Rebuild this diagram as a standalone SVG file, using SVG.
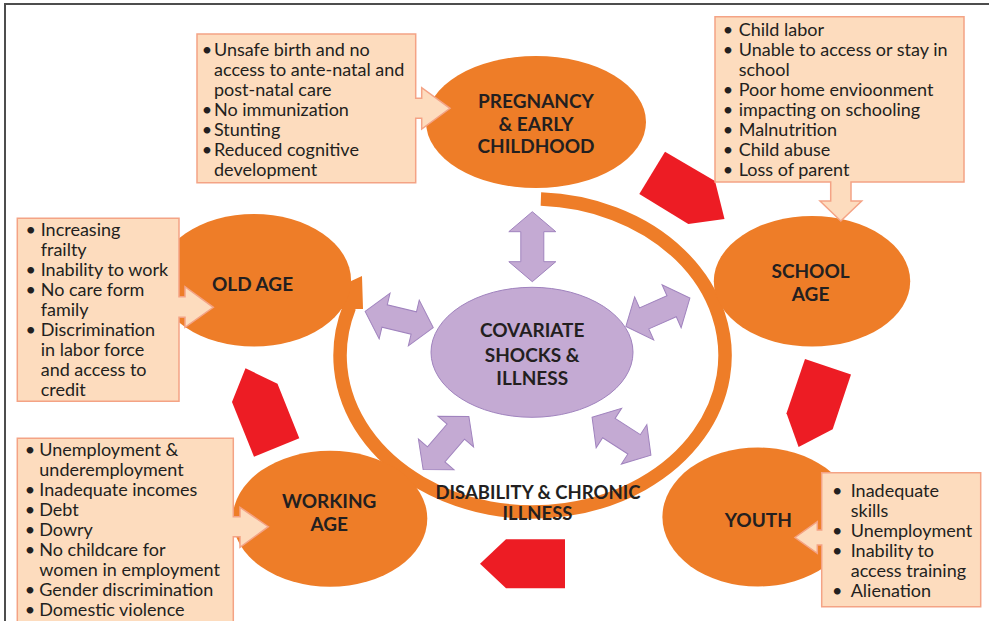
<svg xmlns="http://www.w3.org/2000/svg" width="989" height="621" viewBox="0 0 989 621">
<style>
.stage{fill:#EE7D28}
.lbl{font-family:Lato,"Liberation Sans",sans-serif;font-weight:bold;font-size:19px;fill:#231F20;text-anchor:middle}
.callout{fill:#FDDCBE;stroke:#F4A385;stroke-width:1.5}
.body{font-family:Lato,"Liberation Sans",sans-serif;font-size:18px;fill:#231F20}
.bul{font-family:Lato,"Liberation Sans",sans-serif;font-size:18px;fill:#231F20;text-anchor:middle}
.red{fill:#ED1C24}
.purple{fill:#C4AAD3;stroke:#A083BE;stroke-width:1}
.frame{stroke:#4D4D4D;stroke-width:2;fill:none}
</style>
<defs>
<path id="dbl" d="M-35 0 L-15 -23.5 L-15 -11.5 L15 -11.5 L15 -23.5 L35 0 L15 23.5 L15 11.5 L-15 11.5 L-15 23.5 Z"/>
</defs>
<rect x="0" y="0" width="989" height="621" fill="#FFFFFF"/>

<g id="connectors">
  <path d="M540.9 199.1 A192.5 156.5 0 1 1 349.5 307" fill="none" stroke="#EE7D28" stroke-width="13.5"/>
  <polygon class="stage" points="338,309 363,309 362,276 349,282"/>
  <polygon class="red" points="665,151.7 715,181 724.5,219 688.3,224 639.3,194"/>
  <polygon class="red" points="805,359 851,374.5 832.7,429.3 798.6,447 786.5,413.3"/>
  <polygon class="red" points="245.5,368.3 277.5,383.7 299.3,438.3 254,456.7 232,402"/>
  <polygon class="red" points="480,563.8 506,539.3 565,539.3 565,588.3 506,588.3"/>
  <use href="#dbl" class="purple" transform="translate(532.3 246.7) rotate(90)"/>
  <use href="#dbl" class="purple" transform="translate(399.2 319.5) rotate(13.4)"/>
  <use href="#dbl" class="purple" transform="translate(657.9 312.3) rotate(-23.9)"/>
  <use href="#dbl" class="purple" transform="translate(446 443) rotate(-49.2)"/>
  <use href="#dbl" class="purple" transform="translate(621.5 436.2) rotate(32.8)"/>
</g>

<g id="node-covariate">
  <ellipse cx="532" cy="352.3" rx="101" ry="65" fill="#C4AAD3" stroke="#A083BE" stroke-width="1"/>
  <text class="lbl"><tspan x="532.2" y="336.7">COVARIATE</tspan><tspan x="532.2" y="362.3">SHOCKS &amp;</tspan><tspan x="532.2" y="385">ILLNESS</tspan></text>
</g>

<g id="node-pregnancy">
  <ellipse class="stage" cx="536" cy="122" rx="110" ry="66"/>
  <text class="lbl"><tspan x="536" y="108.3">PREGNANCY</tspan><tspan x="536" y="131">&amp; EARLY</tspan><tspan x="536" y="153.3">CHILDHOOD</tspan></text>
</g>

<g id="node-school">
  <ellipse class="stage" cx="812" cy="281.3" rx="98.2" ry="65.3"/>
  <text class="lbl"><tspan x="810.6" y="278.3">SCHOOL</tspan><tspan x="810.6" y="301">AGE</tspan></text>
</g>

<g id="node-youth">
  <ellipse class="stage" cx="758" cy="517" rx="95.6" ry="69.5"/>
  <text class="lbl" x="758.3" y="526.7">YOUTH</text>
</g>

<g id="node-working">
  <ellipse class="stage" cx="330" cy="518.7" rx="97.3" ry="68"/>
  <text class="lbl"><tspan x="329.2" y="508.3">WORKING</tspan><tspan x="329.2" y="531">AGE</tspan></text>
</g>

<g id="node-oldage">
  <ellipse class="stage" cx="254" cy="280.3" rx="97" ry="66.3"/>
  <text class="lbl" x="252.5" y="291">OLD AGE</text>
</g>

<g id="node-disability">
  <text class="lbl" style="font-size:18.5px"><tspan x="538" y="499">DISABILITY &amp; CHRONIC</tspan><tspan x="537.5" y="520">ILLNESS</tspan></text>
</g>

<g id="callout-pregnancy">
  <path class="callout" d="M197 34 H415.7 V98.3 H421.7 V87.7 L450 108.3 L421.7 129 V118.3 H415.7 V182.7 H197 Z"/>
  <text class="bul"><tspan x="207" y="56">•</tspan><tspan x="207" y="116">•</tspan><tspan x="207" y="136">•</tspan><tspan x="207" y="156">•</tspan></text>
  <text class="body"><tspan x="214" y="56">Unsafe birth and no</tspan><tspan x="214" y="76">access to ante-natal and</tspan><tspan x="214" y="96">post-natal care</tspan><tspan x="214" y="116">No immunization</tspan><tspan x="214" y="136">Stunting</tspan><tspan x="214" y="156">Reduced cognitive</tspan><tspan x="214" y="176">development</tspan></text>
</g>

<g id="callout-school">
  <path class="callout" d="M715 16.7 H964 V182 H851 V201 H861.7 L840.8 221 L820 201 H830.7 V182 H715 Z"/>
  <text class="bul"><tspan x="728" y="36">•</tspan><tspan x="728" y="56">•</tspan><tspan x="728" y="96">•</tspan><tspan x="728" y="116">•</tspan><tspan x="728" y="136">•</tspan><tspan x="728" y="156">•</tspan><tspan x="728" y="176">•</tspan></text>
  <text class="body"><tspan x="738.7" y="36">Child labor</tspan><tspan x="738.7" y="56">Unable to access or stay in</tspan><tspan x="738.7" y="76">school</tspan><tspan x="738.7" y="96">Poor home envioonment</tspan><tspan x="738.7" y="116">impacting on schooling</tspan><tspan x="738.7" y="136">Malnutrition</tspan><tspan x="738.7" y="156">Child abuse</tspan><tspan x="738.7" y="176">Loss of parent</tspan></text>
</g>

<g id="callout-oldage">
  <path class="callout" d="M17.3 218.3 H179 V296.7 H185 V286.7 L213.3 307.3 L185 327.3 V317.3 H179 V401.3 H17.3 Z"/>
  <text class="bul"><tspan x="30.7" y="236">•</tspan><tspan x="30.7" y="276">•</tspan><tspan x="30.7" y="296">•</tspan><tspan x="30.7" y="336">•</tspan></text>
  <text class="body"><tspan x="40.7" y="236">Increasing</tspan><tspan x="40.7" y="256">frailty</tspan><tspan x="40.7" y="276">Inability to work</tspan><tspan x="40.7" y="296">No care form</tspan><tspan x="40.7" y="316">family</tspan><tspan x="40.7" y="336">Discrimination</tspan><tspan x="40.7" y="356">in labor force</tspan><tspan x="40.7" y="376">and access to</tspan><tspan x="40.7" y="396">credit</tspan></text>
</g>

<g id="callout-working">
  <path class="callout" d="M17.3 438.3 H233.3 V516.7 H240 V507.3 L268.3 526.7 L240 547.3 V536.7 H233.3 V630 H17.3 Z"/>
  <text class="bul"><tspan x="30" y="456">•</tspan><tspan x="30" y="496">•</tspan><tspan x="30" y="516">•</tspan><tspan x="30" y="536">•</tspan><tspan x="30" y="556">•</tspan><tspan x="30" y="596">•</tspan><tspan x="30" y="616">•</tspan></text>
  <text class="body"><tspan x="39.3" y="456">Unemployment &amp;</tspan><tspan x="39.3" y="476">underemployment</tspan><tspan x="39.3" y="496">Inadequate incomes</tspan><tspan x="39.3" y="516">Debt</tspan><tspan x="39.3" y="536">Dowry</tspan><tspan x="39.3" y="556">No childcare for</tspan><tspan x="39.3" y="576">women in employment</tspan><tspan x="39.3" y="596">Gender discrimination</tspan><tspan x="39.3" y="616">Domestic violence</tspan></text>
</g>

<g id="callout-youth">
  <path class="callout" d="M821.7 472.7 H980.7 V606.7 H821.7 V545 H817.3 V553.3 L795 537.5 L817.3 521.7 V530 H821.7 Z"/>
  <text class="bul"><tspan x="837.3" y="496.7">•</tspan><tspan x="837.3" y="536.7">•</tspan><tspan x="837.3" y="556.7">•</tspan><tspan x="837.3" y="596.7">•</tspan></text>
  <text class="body"><tspan x="850.7" y="496.7">Inadequate</tspan><tspan x="850.7" y="516.7">skills</tspan><tspan x="850.7" y="536.7">Unemployment</tspan><tspan x="850.7" y="556.7">Inability to</tspan><tspan x="850.7" y="576.7">access training</tspan><tspan x="850.7" y="596.7">Alienation</tspan></text>
</g>

<path class="frame" d="M5 621 V4 H989"/>
</svg>
